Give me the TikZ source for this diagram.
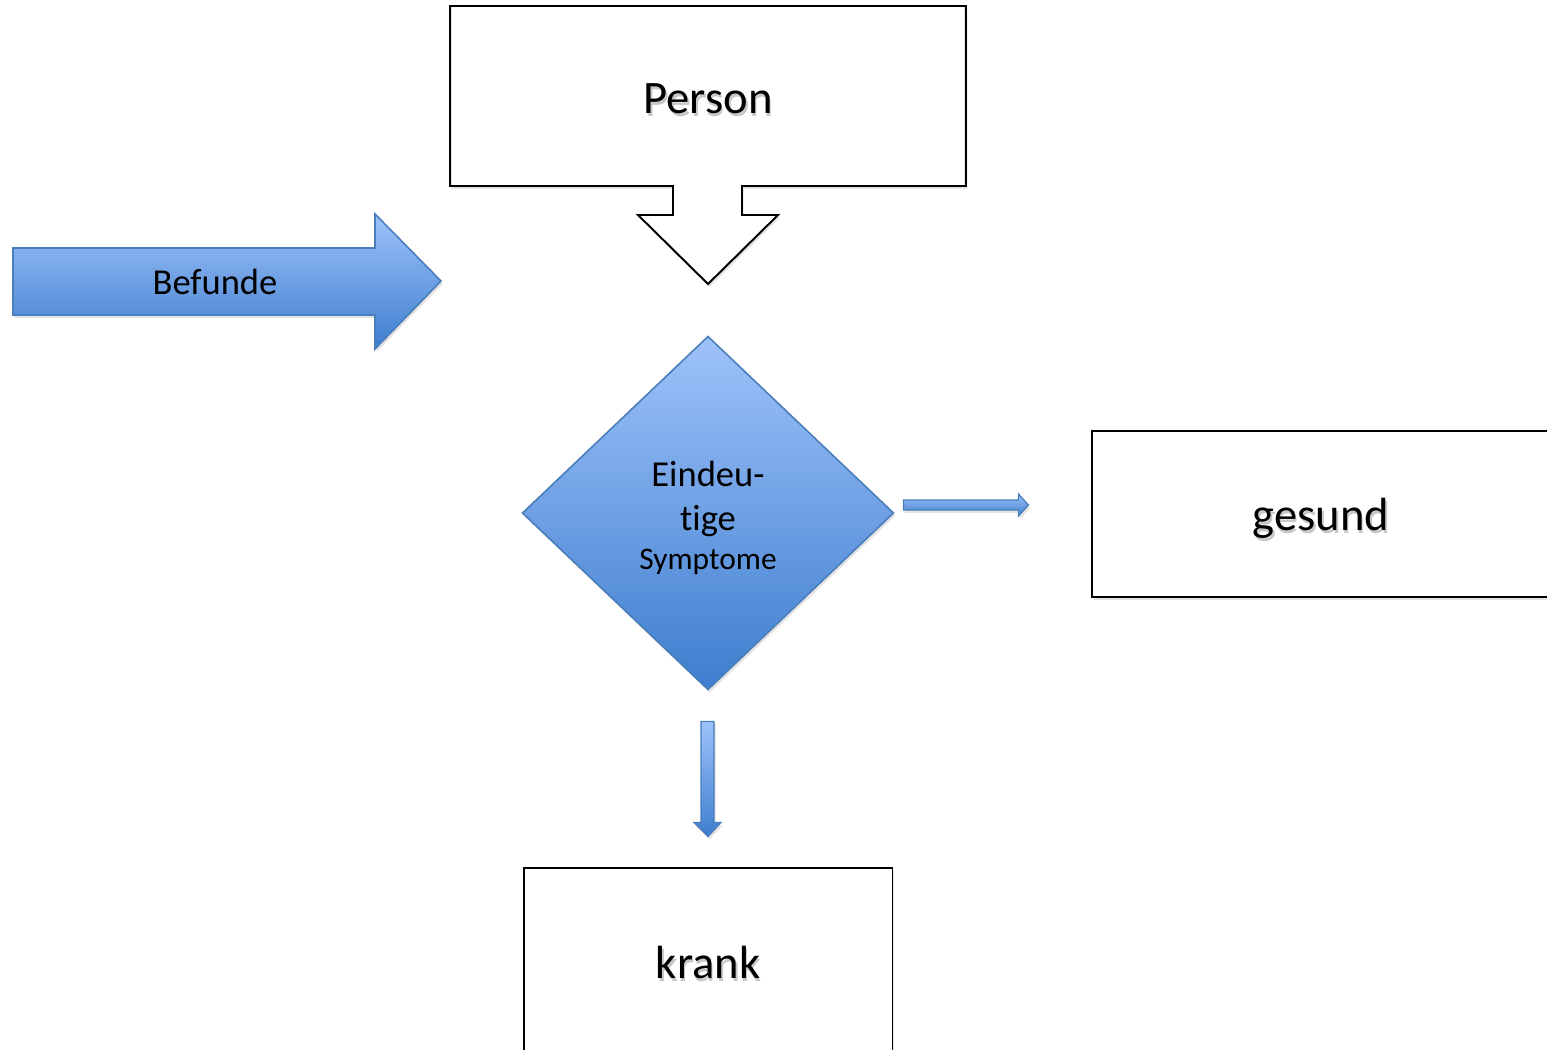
\documentclass[tikz,border=0pt]{standalone}
\usepackage{fontspec}
\setmainfont{Carlito}[Ligatures=NoCommon]
\usetikzlibrary{shapes.geometric,shadows,calc}
\definecolor{bluetop}{RGB}{158,194,250}
\definecolor{bluebot}{RGB}{62,126,206}
\definecolor{blueline}{RGB}{74,126,187}
\newcommand{\bigfont}{\fontsize{26.5pt}{32pt}\selectfont}
\newcommand{\midfont}{\fontsize{20.8pt}{24.4pt}\selectfont}
\newcommand{\smallfont}{\fontsize{17.9pt}{22pt}\selectfont}
\begin{document}
\begin{tikzpicture}[x=0.02cm,y=-0.02cm,
  softshadow/.style={drop shadow={opacity=0.22,shadow xshift=0.03cm,shadow yshift=-0.06cm}},
  plainbox/.style={draw=black,line width=1.1pt,fill=white,softshadow,inner sep=0pt,outer sep=0pt},
  bluefill/.style={top color=bluetop,bottom color=bluebot,draw=blueline,line width=0.9pt,softshadow},
  label/.style={inner sep=0pt,text=black},
  labelshadow/.style={inner sep=0pt,text=black,opacity=0.22}]
\useasboundingbox (0,0) rectangle (1547,1050);
\fill[white] (0,0) rectangle (1547,1050);

% Person box with a downward callout arrow
\node[inner sep=0pt,outer sep=0pt,minimum width=10.32cm,minimum height=3.6cm] (person) at (708,96) {};
\draw[plainbox,line join=miter]
  (person.north west) -- (person.north east) -- (person.south east)
  -- (742,186) -- (742,215) -- (778,215) -- (708,284) -- (638,215)
  -- (673,215) -- (673,186) -- (person.south west) -- cycle;
\node[labelshadow] at ([shift={(1.5,6)}]person.center) {\bigfont Person};
\node[label] (personlabel) at ([shift={(0,3)}]person.center) {\bigfont Person};

% Findings arrow
\draw[bluefill] (13,248) -- (375,248) -- (375,214) -- (441,281) -- (375,349) -- (375,315) -- (13,315) -- cycle;
\node[label] (befunde) at (215,282) {\midfont Befunde};

% Decision diamond
\node[diamond,bluefill,inner sep=0pt,outer sep=0pt,minimum width=7.42cm,minimum height=7.06cm] (dia) at (708,513) {};
\node[label,anchor=base] (dialine1) at (708,486) {\midfont Eindeu-};
\node[label,anchor=base] (dialine2) at (708,530) {\midfont tige};
\node[label,anchor=base] (dialine3) at (708,569) {\smallfont Symptome};

% Outcome boxes
\node[plainbox,minimum width=9.16cm,minimum height=3.32cm] (gesund) at (1321,514) {};
\node[labelshadow] at ([shift={(1.5,7)}]gesund.center) {\bigfont gesund};
\node[label] at ([shift={(0,4)}]gesund.center) {\bigfont gesund};

\node[plainbox,minimum width=7.38cm,minimum height=3.76cm] (krank) at (708,962) {};
\node[labelshadow] at ([shift={(1.5,3)}]krank.center) {\bigfont krank};
\node[label] at (krank.center) {\bigfont krank};

% Block arrows leaving the diamond
\draw[bluefill,line width=0.7pt] ([shift={(10,-13)}]dia.east) -- ++(115,0) -- ++(0,-6)
  -- ++(10,11) -- ++(-10,11) -- ++(0,-6) -- ++(-115,0) -- cycle;
\draw[bluefill,line width=0.7pt] ([shift={(-7,32)}]dia.south) -- ++(13,0) -- ++(0,101)
  -- ++(7,0) -- ++(-13,14) -- ++(-14,-14) -- ++(7,0) -- cycle;
\end{tikzpicture}
\end{document}
